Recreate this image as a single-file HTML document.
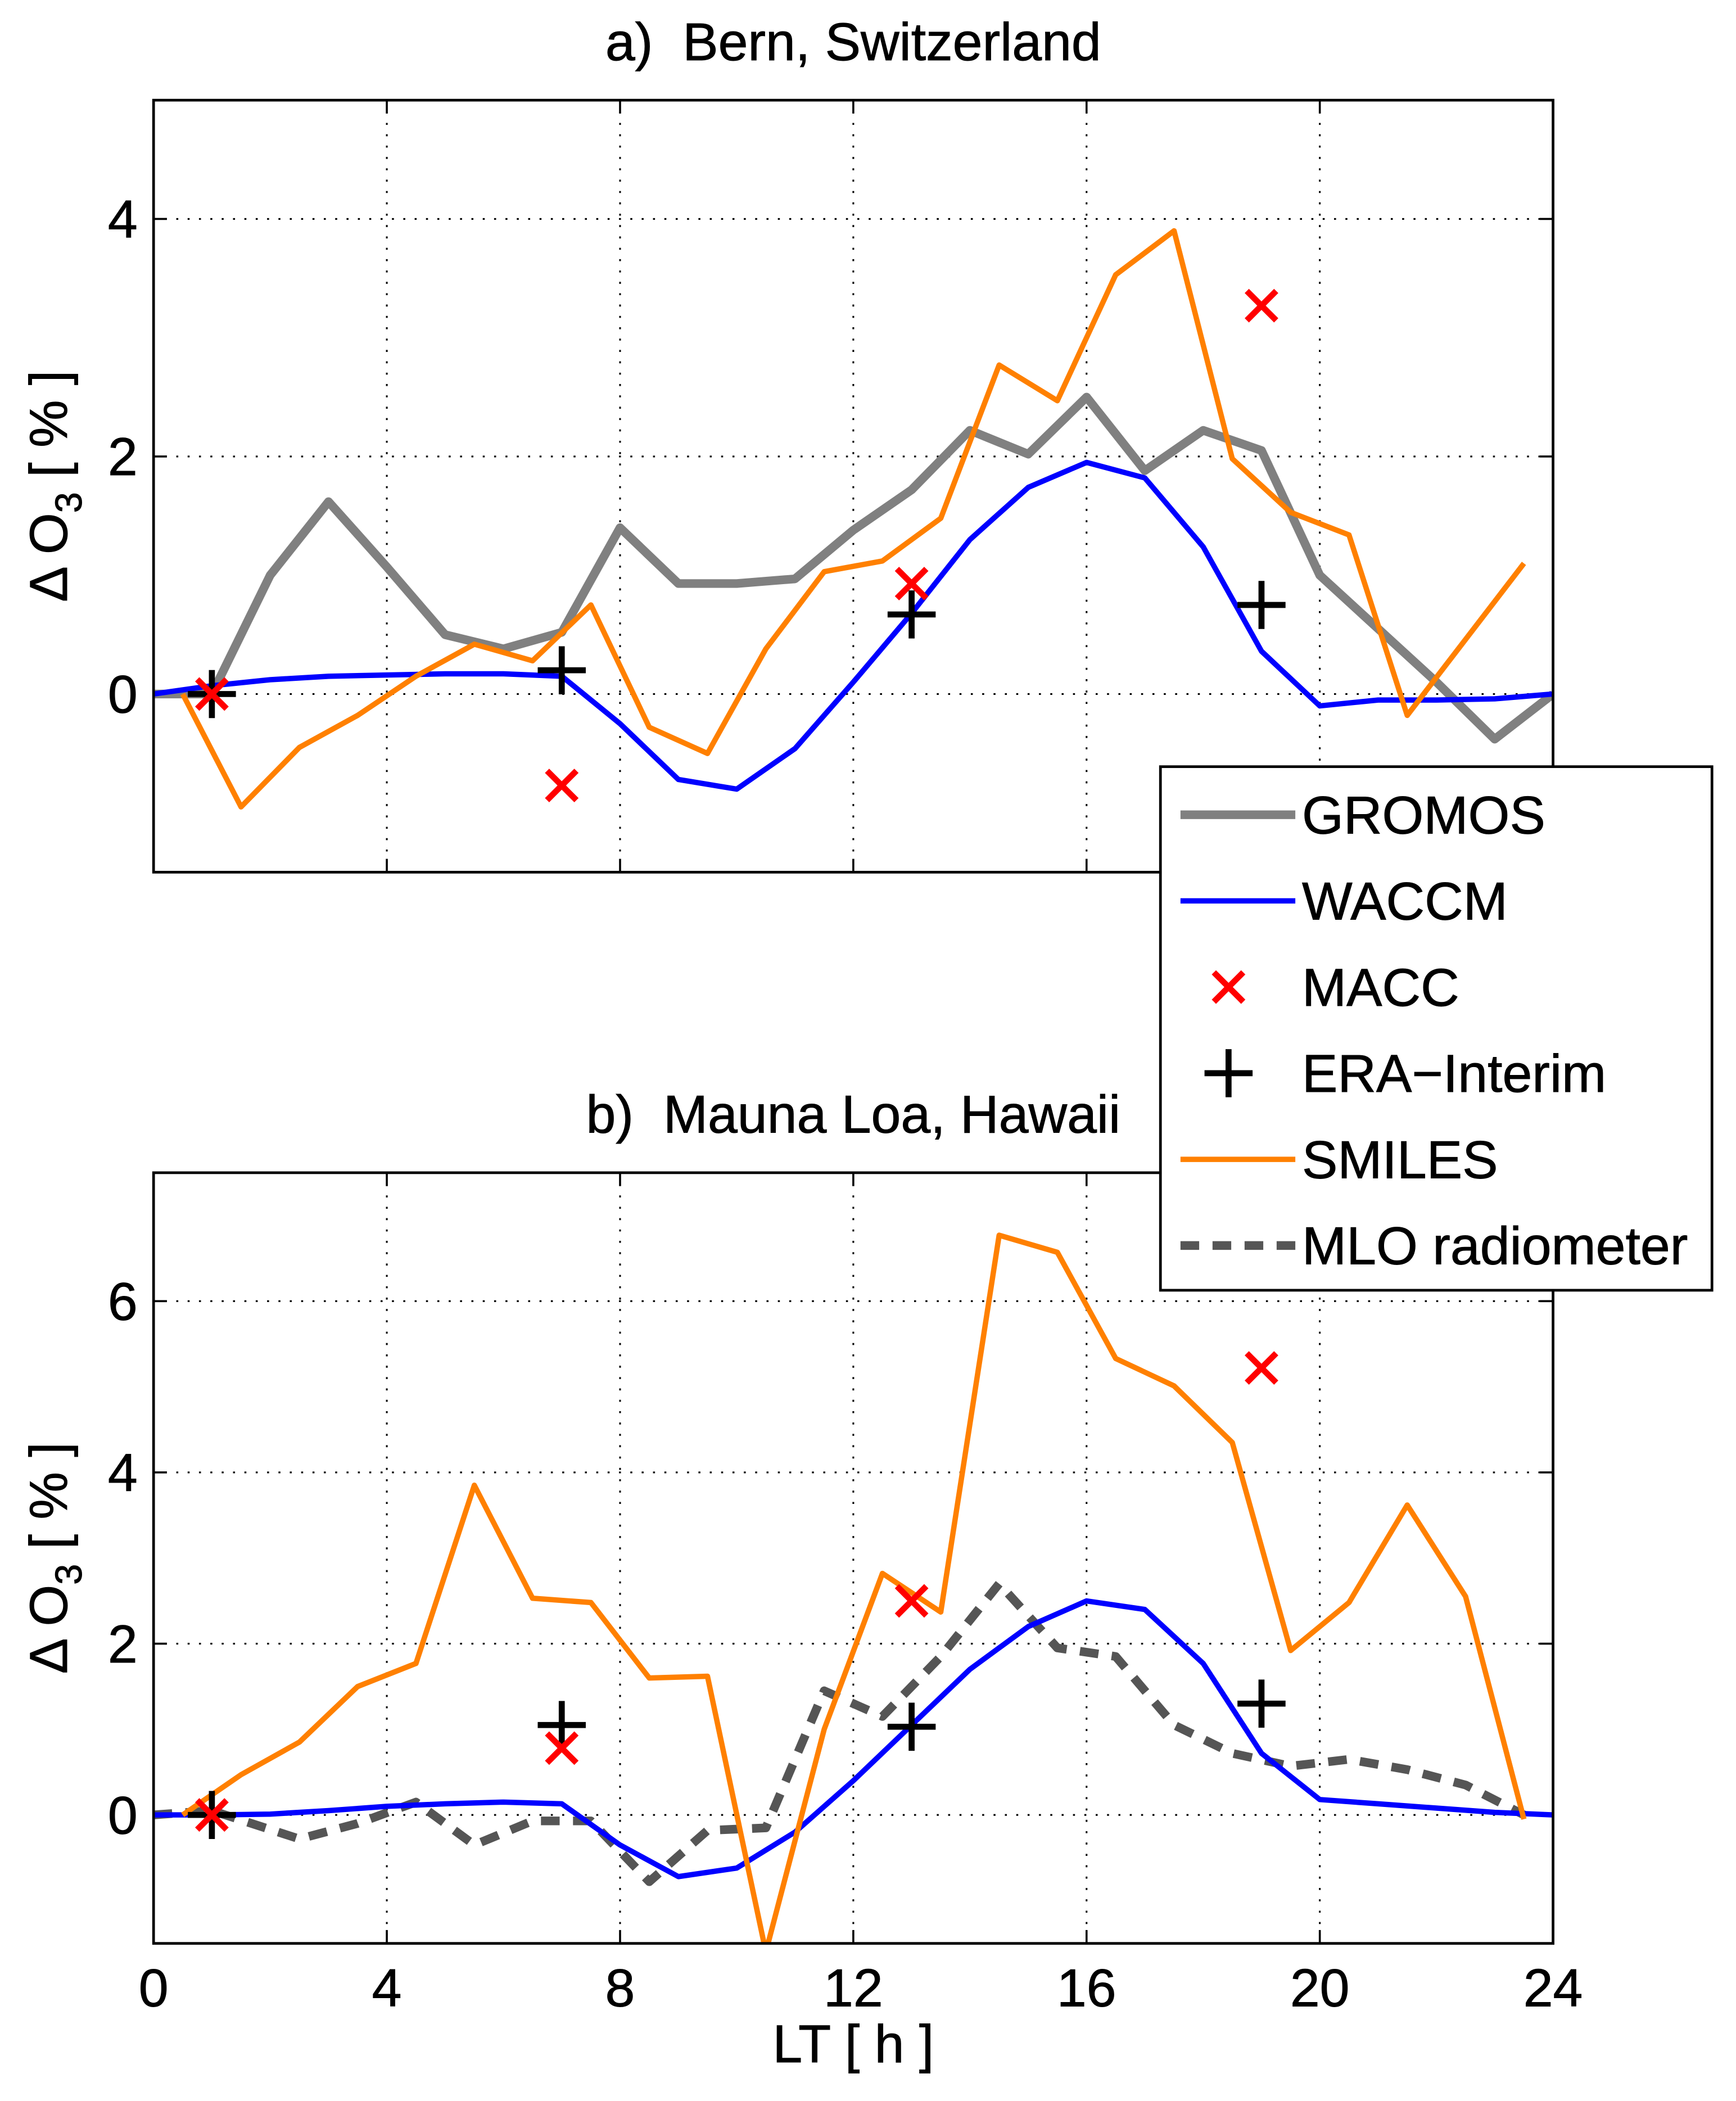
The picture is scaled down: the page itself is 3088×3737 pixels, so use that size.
<!DOCTYPE html>
<html><head><meta charset="utf-8"><style>
html,body{margin:0;padding:0;background:#fff;}
svg{display:block;font-family:"Liberation Sans",sans-serif;}
text{stroke:#000;stroke-width:0.4;}
</style></head><body>
<svg id="chart" width="3088" height="3737" viewBox="0 0 1300 1573" preserveAspectRatio="none" xmlns="http://www.w3.org/2000/svg"></svg>
<script>
const hours = [0,1,2,3,4,5,6,7,8,9,10,11,12,13,14,15,16,17,18,19,20,21,22,23,24];
const halfHours = [0.5,1.5,2.5,3.5,4.5,5.5,6.5,7.5,8.5,9.5,10.5,11.5,12.5,13.5,14.5,15.5,16.5,17.5,18.5,19.5,20.5,21.5,22.5,23.5];
const bernGromos = [0,0,1.0,1.62,1.07,0.5,0.38,0.52,1.4,0.93,0.93,0.97,1.38,1.72,2.22,2.02,2.5,1.88,2.22,2.05,1.0,0.55,0.1,-0.38,0];
const bernWaccm = [0,0.07,0.12,0.15,0.16,0.17,0.17,0.15,-0.25,-0.72,-0.8,-0.46,0.1,0.68,1.3,1.74,1.95,1.82,1.24,0.36,-0.1,-0.05,-0.05,-0.04,0];
const bernSmiles = [0,-0.95,-0.45,-0.18,0.15,0.42,0.28,0.75,-0.28,-0.5,0.38,1.03,1.12,1.48,2.77,2.47,3.53,3.9,1.98,1.53,1.34,-0.18,0.46,1.1];
const sampleHours = [1,7,13,19];
const bernMacc = [0,-0.77,0.93,3.27];
const bernEra = [0,0.2,0.67,0.75];
const mloWaccm = [0,0,0.01,0.05,0.1,0.13,0.15,0.13,-0.35,-0.72,-0.62,-0.2,0.4,1.05,1.7,2.2,2.5,2.4,1.77,0.72,0.18,0.13,0.08,0.03,0];
const mloSmiles = [0,0.47,0.85,1.5,1.77,3.85,2.53,2.48,1.6,1.62,-1.6,1.0,2.82,2.37,6.77,6.57,5.33,5.01,4.35,1.92,2.48,3.62,2.55,-0.05];
const radioHours = [0,1,2.5,3.5,4.5,5.5,6.5,7.5,8.5,9.5,10.5,11.5,12.5,13.5,14.5,15.5,16.5,17.5,18.5,19.5,20.5,21.5,22.5,23.5];
const mloRadiometer = [0,0.05,-0.28,-0.1,0.15,-0.35,-0.07,-0.07,-0.78,-0.18,-0.15,1.45,1.15,1.85,2.7,1.95,1.85,1.05,0.72,0.57,0.65,0.53,0.35,0.0];
const mloMacc = [0,0.78,2.5,5.22];
const mloEra = [0,1.05,1.03,1.3];
const xTicks = [0,4,8,12,16,20,24];
const bernYTicks = [0,2,4];
const mloYTicks = [0,2,4,6];

const NS='http://www.w3.org/2000/svg';
const svg=document.getElementById('chart');
function mk(tag,attrs,parent){const e=document.createElementNS(NS,tag);for(const k in attrs)e.setAttribute(k,attrs[k]);(parent||svg).appendChild(e);return e;}
const L=115,R=1163;
const FS=40;
const xs=v=>L+(R-L)*v/24;

function panel(name,top,bottom,ymin,ymax,yTicks,title,showX){
  const g=mk('g',{});
  
  
  const ys=v=>bottom-(bottom-top)*(v-ymin)/(ymax-ymin);
  mk('rect',{x:L,y:top,width:R-L,height:bottom-top,fill:'#fff'},g);
  xTicks.forEach(t=>{
    if(t>0&&t<24){const l=mk('line',{x1:xs(t),x2:xs(t),y1:top,y2:bottom,stroke:'#000','stroke-width':1.3,'stroke-dasharray':'1.5 7'},g);
      }
    mk('line',{x1:xs(t),x2:xs(t),y1:bottom,y2:bottom-10,stroke:'#000','stroke-width':1.5},g);
    mk('line',{x1:xs(t),x2:xs(t),y1:top,y2:top+10,stroke:'#000','stroke-width':1.5},g);
    if(showX){const tx=mk('text',{x:xs(t),y:bottom+47,'text-anchor':'middle','font-size':FS},g);tx.textContent=t;
      }
  });
  yTicks.forEach(t=>{
    const l=mk('line',{x1:L,x2:R,y1:ys(t),y2:ys(t),stroke:'#000','stroke-width':1.3,'stroke-dasharray':'1.5 7'},g);
    
    mk('line',{x1:L,x2:L+10,y1:ys(t),y2:ys(t),stroke:'#000','stroke-width':1.5},g);
    mk('line',{x1:R,x2:R-10,y1:ys(t),y2:ys(t),stroke:'#000','stroke-width':1.5},g);
    const tx=mk('text',{x:L-12,y:ys(t)+14,'text-anchor':'end','font-size':FS},g);tx.textContent=t;
    
  });
  const tt=mk('text',{x:639,y:top-30,'text-anchor':'middle','font-size':FS},g);tt.textContent=title;
  
  const cy=(top+bottom)/2;
  const yt=mk('text',{x:50,y:cy,'text-anchor':'middle','font-size':FS,transform:`rotate(-90 50 ${cy})`},g);
  yt.innerHTML='Δ O<tspan font-size="28" dy="11">3</tspan><tspan dy="-11"> [ % ]</tspan>';
  
  const clipId='clip'+name;
  const cp=mk('clipPath',{id:clipId},g);mk('rect',{x:L,y:top,width:R-L,height:bottom-top},cp);
  const series=mk('g',{'clip-path':`url(#${clipId})`},g);
  return {g,ys,series,top,bottom};
}
function line(p,name,xv,yv,color,w,dash){
  const pts=xv.map((x,i)=>xs(x).toFixed(1)+','+p.ys(yv[i]).toFixed(1)).join(' ');
  const a={points:pts,fill:'none',stroke:color,'stroke-width':w,'stroke-linejoin':'round'};
  if(dash)a['stroke-dasharray']=dash;
  const e=mk('polyline',a,p.series);
  
  
}
function crosses(p,name,xv,yv){xv.forEach((x,i)=>{const cx=xs(x),cy=p.ys(yv[i]),d=11;
  const e=mk('path',{d:`M${cx-d} ${cy-d}L${cx+d} ${cy+d}M${cx-d} ${cy+d}L${cx+d} ${cy-d}`,stroke:'#ff0000','stroke-width':4.5},p.g);
  
  });}
function pluses(p,name,xv,yv){xv.forEach((x,i)=>{const cx=xs(x),cy=p.ys(yv[i]),d=18;
  const e=mk('path',{d:`M${cx-d} ${cy}L${cx+d} ${cy}M${cx} ${cy-d}L${cx} ${cy+d}`,stroke:'#000','stroke-width':4.5},p.g);
  
  });}

const a=panel('panel-bern',75,653,-1.5,5,bernYTicks,'a)\u00a0\u00a0Bern, Switzerland',false);
line(a,'gromos-line',hours,bernGromos,'#808080',6.5);
line(a,'waccm-line',hours,bernWaccm,'#0000ff',4);
line(a,'smiles-line',halfHours,bernSmiles,'#ff8000',4);
pluses(a,'era-interim-marker',sampleHours,bernEra);
crosses(a,'macc-marker',sampleHours,bernMacc);
mk('rect',{x:L,y:75,width:R-L,height:578,fill:'none',stroke:'#000','stroke-width':2},a.g);

const b=panel('panel-mauna-loa',878,1455,-1.5,7.5,mloYTicks,'b)\u00a0\u00a0Mauna Loa, Hawaii',true);
line(b,'mlo-radiometer-line',radioHours,mloRadiometer,'#555555',6.5,'14 10');
line(b,'waccm-line',hours,mloWaccm,'#0000ff',4);
line(b,'smiles-line',halfHours,mloSmiles,'#ff8000',4);
pluses(b,'era-interim-marker',sampleHours,mloEra);
crosses(b,'macc-marker',sampleHours,mloMacc);
mk('rect',{x:L,y:878,width:R-L,height:577,fill:'none',stroke:'#000','stroke-width':2},b.g);

const xl=mk('text',{x:639,y:1544,'text-anchor':'middle','font-size':FS});xl.textContent='LT [ h ]';



const lg=mk('g',{});


mk('rect',{x:869,y:574,width:413,height:392,fill:'#fff',stroke:'#000','stroke-width':2},lg);
const entries=[['GROMOS','line','#808080',6.5,null],['WACCM','line','#0000ff',4,null],['MACC','x'],['ERA\u2212Interim','+'],['SMILES','line','#ff8000',4,null],['MLO radiometer','line','#555555',6.5,'14 10']];
entries.forEach((en,i)=>{
  const y=610+i*64.5;
  const eg=mk('g',{},lg);
  
  
  if(en[1]==='line'){const a2={x1:884,x2:970,y1:y,y2:y,stroke:en[2],'stroke-width':en[3]};if(en[4])a2['stroke-dasharray']=en[4];mk('line',a2,eg);}
  else if(en[1]==='x'){mk('path',{d:`M909 ${y-11}L931 ${y+11}M909 ${y+11}L931 ${y-11}`,stroke:'#ff0000','stroke-width':4.5},eg);}
  else {mk('path',{d:`M902 ${y}L938 ${y}M920 ${y-18}L920 ${y+18}`,stroke:'#000','stroke-width':4.5},eg);}
  const t=mk('text',{x:975,y:y+14,'font-size':FS},eg);t.textContent=en[0];
});
</script>
</body></html>
